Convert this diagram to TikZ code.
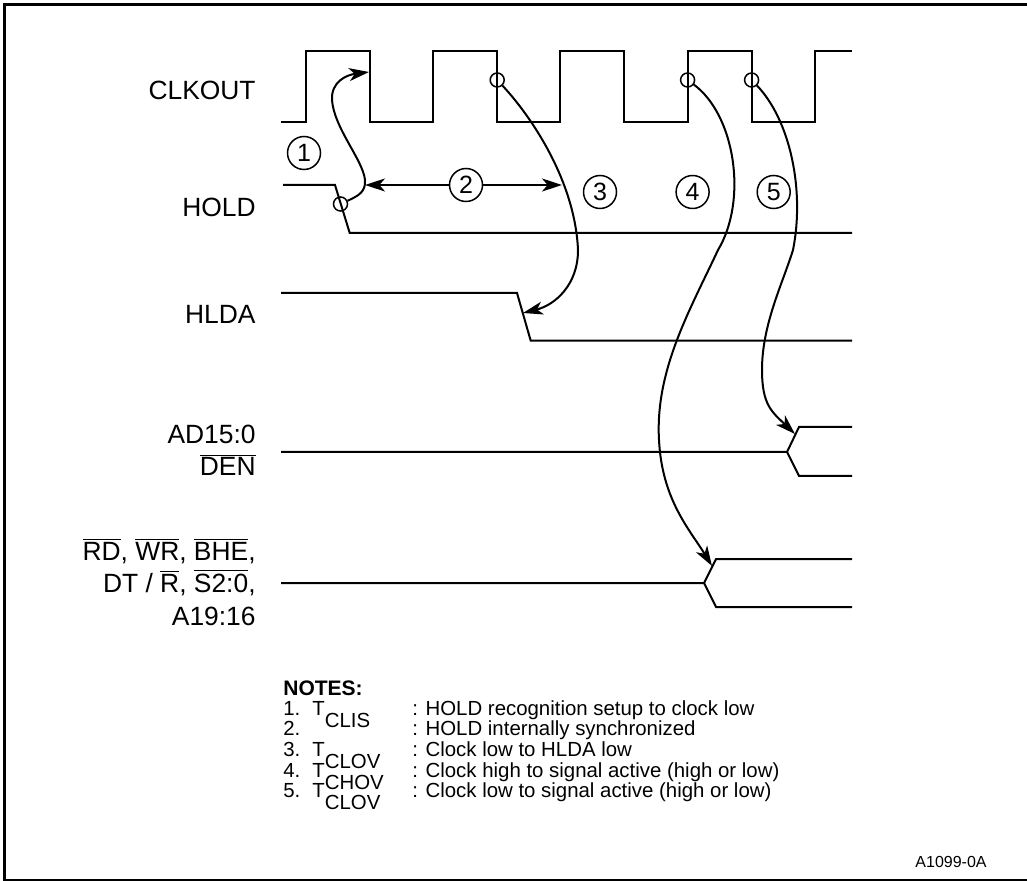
\documentclass[tikz,border=0pt]{standalone}
\usepackage{fontspec}
\setmainfont{Liberation Sans}
\usepackage{tikz}
\usetikzlibrary{arrows.meta, positioning}

\newcommand{\ovl}[1]{$\overline{\mbox{#1}}$}

\begin{document}
\begin{tikzpicture}[x=0.5pt, y=-0.5pt,
    wave/.style={line width=1pt},
    lbl/.style={font=\fontsize{13.2}{16}\selectfont, anchor=base east, inner sep=0pt},
    ring/.style={circle, draw, line width=0.75pt, minimum size=7pt, inner sep=0pt},
    callout/.style={circle, draw, line width=0.75pt, minimum size=16.5pt, inner sep=0pt, font=\fontsize{12.5}{14}\selectfont},
    link/.style={line width=1pt, -{Stealth[length=10pt, width=6.5pt, inset=2.8pt]}},
    note/.style={font=\fontsize{10.2}{12}\selectfont, anchor=base west, inner sep=0pt}]
  \useasboundingbox (0,0) rectangle (1027,881);

  % Frame (top, left, bottom)
  \draw[line width=1.5pt] (4.2,881) -- (4.2,4.7) -- (1027,4.7);
  \draw[line width=0.65pt] (4.2,880) -- (1027,880);

  % Signal names
  \node[lbl] (clk)  at (256,99.3)  {CLKOUT};
  \node[lbl] (hold) at (256,216.7) {HOLD};
  \node[lbl] (hlda) at (256,324)   {HLDA};
  \node[lbl] (ad)   at (256,444)   {AD15:0};
  \node[lbl] (den)  at (256,476)   {\ovl{DEN}};
  \node[lbl] (bus1) at (256,560)   {\ovl{RD}, \ovl{WR}, \ovl{BHE},};
  \node[lbl] (bus2) at (256,592)   {DT / \ovl{R}, \ovl{S2:0},};
  \node[lbl] (bus3) at (256,625)   {A19:16};

  % CLKOUT: period 127.2
  \draw[wave] (281,122) -- (306,122) -- (306,51) -- (370,51) -- (370,122)
    -- (433.2,122) -- (433.2,51) -- (497.2,51) -- (497.2,122)
    -- (560.4,122) -- (560.4,51) -- (624.4,51) -- (624.4,122)
    -- (687.6,122) -- (687.6,51) -- (751.6,51) -- (751.6,122)
    -- (814.8,122) -- (814.8,51) -- (852,51);
  % HOLD
  \draw[wave] (283,185) -- (335,185) -- (349.7,233) -- (852,233);
  % HLDA
  \draw[wave] (281,293) -- (517,293) -- (530.7,340.7) -- (852,340.7);
  % AD15:0 / DEN
  \draw[wave] (281,452) -- (787,452) -- (799,427) -- (852,427);
  \draw[wave] (787,452) -- (799,476) -- (852,476);
  % RD, WR, BHE, DT/R, S2:0, A19:16
  \draw[wave] (281,583) -- (704,583) -- (716,559) -- (852,559);
  \draw[wave] (704,583) -- (716,607) -- (852,607);

  % Reference points on the edges
  \node[ring] (r1) at (340.5,204) {};
  \node[ring] (r3) at (497.2,80) {};
  \node[ring] (r4) at (687.6,80) {};
  \node[ring] (r5) at (751.6,80) {};
  \coordinate (t1) at (369,72);
  \coordinate (t2l) at (365,185);
  \coordinate (t2r) at (562,185);
  \coordinate (t3) at (523,313);
  \coordinate (t4) at (712,566);
  \coordinate (t5) at (795,434);

  % Numbered callouts
  \node[callout] (c1) at (304,153) {1};
  \node[callout] (c2) at (466,185) {2};
  \node[callout] (c3) at (600,192) {3};
  \node[callout] (c4) at (692.6,192) {4};
  \node[callout] (c5) at (773.7,192) {5};

  % Timing arrows
  \draw[link] (r1) .. controls (358,196) and (366,192) .. (365,180)
    .. controls (363,160) and (334,128) .. (332,100)
    .. controls (331,82) and (346,75) .. (t1);
  \draw[link] (c2) -- (t2l);
  \draw[link] (c2) -- (t2r);
  \draw[link] (r3) .. controls (530,115) and (575,180) .. (578,250)
    .. controls (578,285) and (555,305) .. (t3);
  \draw[link] (r4) .. controls (735,115) and (748,200) .. (718,250)
    .. controls (690,310) and (655,370) .. (659,440)
    .. controls (662,500) and (690,530) .. (t4);
  \draw[link] (r5) .. controls (790,120) and (805,190) .. (793,250)
    .. controls (782,285) and (762,325) .. (762,370)
    .. controls (762,405) and (772,412) .. (t5);

  % Notes
  \node[note, font=\bfseries\fontsize{10.5}{12}\selectfont] (notes) at (283,695) {NOTES:};
  \node[note] (n1) at (283,715) {1.};
  \node[note] (n1t) at (312,715) {T\raisebox{-6pt}{CLIS}};
  \node[note] (n1d) at (412,715) {: HOLD recognition setup to clock low};
  \node[note] (n2) at (283,735.7) {2.};
  \node[note] (n2d) at (412,735.7) {: HOLD internally synchronized};
  \node[note] (n3) at (283,756.4) {3.};
  \node[note] (n3t) at (312,756.4) {T\raisebox{-6pt}{CLOV}};
  \node[note] (n3d) at (412,756.4) {: Clock low to HLDA low};
  \node[note] (n4) at (283,777.1) {4.};
  \node[note] (n4t) at (312,777.1) {T\raisebox{-6pt}{CHOV}};
  \node[note] (n4d) at (412,777.1) {: Clock high to signal active (high or low)};
  \node[note] (n5) at (283,797.8) {5.};
  \node[note] (n5t) at (312,797.8) {T\raisebox{-6pt}{CLOV}};
  \node[note] (n5d) at (412,797.8) {: Clock low to signal active (high or low)};

  \node[font=\fontsize{8}{10}\selectfont, anchor=base east, inner sep=0pt] (fig) at (987,867) {A1099-0A};
\end{tikzpicture}
\end{document}
